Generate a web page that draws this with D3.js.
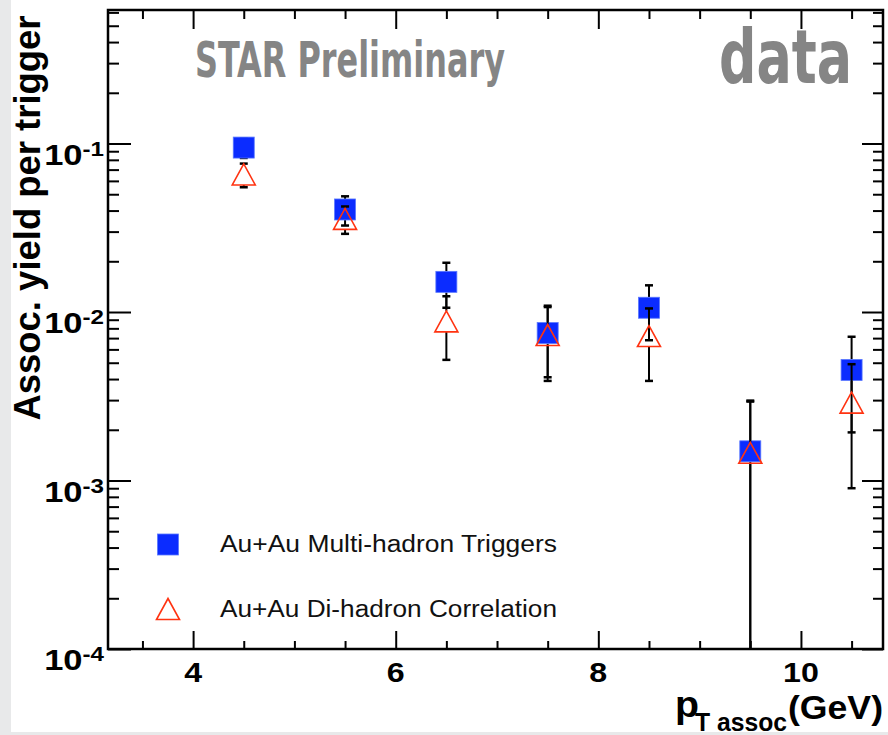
<!DOCTYPE html>
<html>
<head>
    <script src="https://cdnjs.cloudflare.com/ajax/libs/d3/7.8.5/d3.min.js"></script>
    <style>
        body { margin: 0; background: #e8e9ea; }
        svg { display: block; }
        .axis line { stroke: #000; stroke-width: 2; }
        .axis path { display: none; }
        .lbl { font-family: "Liberation Sans", Arial, sans-serif; font-weight: bold; fill: #000; }
        .leg { font-family: "Liberation Sans", Arial, sans-serif; font-size: 23px; fill: #111; }
        .wm { font-family: "DejaVu Sans Condensed", "DejaVu Sans", sans-serif; font-weight: bold; fill: #858585; }
    </style>
</head>
<body>
    <svg width="888" height="735"></svg>
    <script>
        // Data (pT bin centres, yields and errors)
        const ptBins = [4.5, 5.5, 6.5, 7.5, 8.5, 9.5, 10.5];
        const multiYield = [0.0946, 0.0406, 0.0151, 0.0075, 0.0106, 0.00149, 0.00453];
        const multiErr   = [0.0125, 0.0080, 0.0045, 0.0034, 0.0038, 0.00149, 0.0026];
        const diYield    = [0.0655, 0.0357, 0.0088, 0.0073, 0.0072, 0.00146, 0.0029];
        const diErr      = [0.0105, 0.0066, 0.0036, 0.0034, 0.0033, 0.00148, 0.0020];

        const xMajorTicks = [4, 6, 8, 10];
        const xMinorTicks = [3.5, 4.5, 5, 5.5, 6.5, 7, 7.5, 8.5, 9, 9.5, 10.5];
        const yMajorTicks = [1e-4, 1e-3, 1e-2, 1e-1];
        const yTickExp = ["-4", "-3", "-2", "-1"];
        const legendLabels = ["Au+Au Multi-hadron Triggers", "Au+Au Di-hadron Correlation"];

        const yMinorTicks = [];
        [1e-4, 1e-3, 1e-2, 1e-1].forEach(d => {
            for (let k = 2; k <= 9; k++) if (k * d < 0.62) yMinorTicks.push(k * d);
        });

        const frame = {left: 108, right: 883, top: 10, bottom: 649};

        const svg = d3.select("svg");

        // page background (grey strip left / bottom)
        svg.append("rect").attr("width", 888).attr("height", 735).attr("fill", "#e8e9ea");
        svg.append("rect").attr("x", 11).attr("y", 0).attr("width", 877).attr("height", 732).attr("fill", "#fff");

        const x = d3.scaleLinear()
            .domain([3.16, 10.81])
            .range([frame.left, frame.right]);

        const y = d3.scaleLog()
            .domain([1e-4, 0.62])
            .range([frame.bottom, frame.top]);

        // ticks on all four sides, pointing inwards
        function addAxis(axis, tx, ty) {
            svg.append("g").attr("class", "axis")
                .attr("transform", `translate(${tx},${ty})`)
                .call(axis);
        }
        addAxis(d3.axisLeft(y).tickValues(yMajorTicks).tickSize(-23).tickFormat(""), frame.left, 0);
        addAxis(d3.axisLeft(y).tickValues(yMinorTicks).tickSize(-11).tickFormat(""), frame.left, 0);
        addAxis(d3.axisRight(y).tickValues(yMajorTicks).tickSize(-21).tickFormat(""), frame.right, 0);
        addAxis(d3.axisRight(y).tickValues(yMinorTicks).tickSize(-10).tickFormat(""), frame.right, 0);
        addAxis(d3.axisBottom(x).tickValues(xMajorTicks).tickSize(-18).tickFormat(""), 0, frame.bottom);
        addAxis(d3.axisBottom(x).tickValues(xMinorTicks).tickSize(-8).tickFormat(""), 0, frame.bottom);
        addAxis(d3.axisTop(x).tickValues(xMajorTicks).tickSize(-19).tickFormat(""), 0, frame.top);
        addAxis(d3.axisTop(x).tickValues(xMinorTicks).tickSize(-9).tickFormat(""), 0, frame.top);

        // frame
        svg.append("rect")
            .attr("x", frame.left).attr("y", frame.top)
            .attr("width", frame.right - frame.left)
            .attr("height", frame.bottom - frame.top)
            .attr("fill", "none").attr("stroke", "#000").attr("stroke-width", 2.5);

        // y tick labels 10^n
        yMajorTicks.forEach((v, i) => {
            const g = svg.append("g")
                .attr("transform", `translate(104,${y(v) + 21}) scale(1.15,1)`);
            const t = g.append("text").attr("class", "lbl").attr("text-anchor", "end");
            t.append("tspan").attr("font-size", 30).text("10");
            t.append("tspan").attr("font-size", 21).attr("dy", -9).text(yTickExp[i]);
        });

        // x tick labels
        xMajorTicks.forEach(v => {
            svg.append("g")
                .attr("transform", `translate(${x(v)},682) scale(1.15,1)`)
                .append("text").attr("class", "lbl")
                .attr("text-anchor", "middle").attr("font-size", 28)
                .text(v);
        });

        // axis titles
        svg.append("text").attr("class", "lbl")
            .attr("transform", "translate(40,218) rotate(-90)")
            .attr("text-anchor", "middle").attr("font-size", 36)
            .attr("textLength", 405).attr("lengthAdjust", "spacingAndGlyphs")
            .text("Assoc. yield per trigger");

        svg.append("text").attr("class", "lbl")
            .attr("x", 675).attr("y", 717).attr("font-size", 37)
            .attr("textLength", 24).attr("lengthAdjust", "spacingAndGlyphs")
            .text("p");
        svg.append("text").attr("class", "lbl")
            .attr("x", 695).attr("y", 731).attr("font-size", 25)
            .attr("textLength", 92).attr("lengthAdjust", "spacingAndGlyphs")
            .text("T assoc");
        svg.append("text").attr("class", "lbl")
            .attr("x", 788).attr("y", 719).attr("font-size", 34)
            .attr("textLength", 95).attr("lengthAdjust", "spacingAndGlyphs")
            .text("(GeV)");

        // watermark texts
        svg.append("text").attr("class", "wm")
            .attr("x", 195).attr("y", 77).attr("font-size", 50)
            .attr("textLength", 310).attr("lengthAdjust", "spacingAndGlyphs")
            .text("STAR Preliminary");
        svg.append("text").attr("class", "wm")
            .attr("x", 719).attr("y", 83).attr("font-size", 74)
            .attr("textLength", 133).attr("lengthAdjust", "spacingAndGlyphs")
            .text("data");

        const blue = "#0b2cff";
        const red = "#ff3311";
        const half = 10.5;

        function triPath(cx, cy) {
            return `M${cx - 11.5},${cy + 10.5}L${cx + 11.5},${cy + 10.5}L${cx},${cy - 10.5}Z`;
        }

        // error bars, ROOT style: bar skips the marker, small end caps
        function drawErrors(vals, errs) {
            const g = svg.append("g").attr("stroke", "#000");
            ptBins.forEach((pt, i) => {
                const cx = x(pt), cy = y(vals[i]);
                const hi = y(vals[i] + errs[i]);
                const lo = vals[i] - errs[i] > 1e-4 ? y(vals[i] - errs[i]) : frame.bottom;
                if (hi < cy - half) g.append("line").attr("x1", cx).attr("x2", cx)
                    .attr("y1", cy - half).attr("y2", hi).attr("stroke-width", 2);
                if (lo > cy + half) g.append("line").attr("x1", cx).attr("x2", cx)
                    .attr("y1", cy + half).attr("y2", lo).attr("stroke-width", 2);
                g.append("line").attr("x1", cx - 4).attr("x2", cx + 4)
                    .attr("y1", hi).attr("y2", hi).attr("stroke-width", 2.5);
                if (lo < frame.bottom) g.append("line").attr("x1", cx - 4).attr("x2", cx + 4)
                    .attr("y1", lo).attr("y2", lo).attr("stroke-width", 2.5);
            });
        }

        drawErrors(multiYield, multiErr);

        svg.selectAll(".sq")
            .data(ptBins)
            .enter().append("rect")
            .attr("class", "sq")
            .attr("x", (d, i) => x(d) - half)
            .attr("y", (d, i) => y(multiYield[i]) - half)
            .attr("width", 2 * half).attr("height", 2 * half)
            .attr("fill", blue).attr("stroke", "#5a78ff").attr("stroke-width", 0.8);

        drawErrors(diYield, diErr);

        svg.selectAll(".tri")
            .data(ptBins)
            .enter().append("path")
            .attr("class", "tri")
            .attr("d", (d, i) => triPath(x(d), y(diYield[i])))
            .attr("fill", "none").attr("stroke", red).attr("stroke-width", 1.6);

        // legend
        svg.append("rect")
            .attr("x", 168 - half).attr("y", 544.5 - half)
            .attr("width", 2 * half).attr("height", 2 * half)
            .attr("fill", blue).attr("stroke", "#5a78ff").attr("stroke-width", 0.8);
        svg.append("path")
            .attr("d", triPath(168, 609))
            .attr("fill", "none").attr("stroke", red).attr("stroke-width", 1.6);

        legendLabels.forEach((lab, i) => {
            svg.append("text").attr("class", "leg")
                .attr("x", 220).attr("y", 552 + i * 65)
                .attr("textLength", 337).attr("lengthAdjust", "spacingAndGlyphs")
                .text(lab);
        });
    </script>
</body>
</html>
